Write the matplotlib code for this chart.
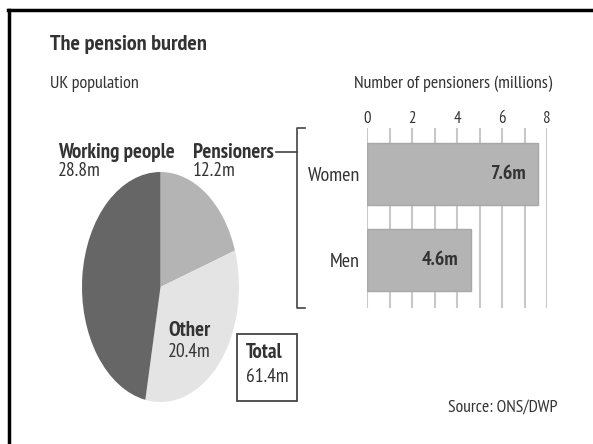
import matplotlib.pyplot as plt
from matplotlib.lines import Line2D

# UK population split (millions)
pie_labels = ['Pensioners', 'Other', 'Working people']
pie_values = [12.2, 20.4, 28.8]
pie_colors = ['#b4b4b4', '#e4e4e4', '#666666']
total = 61.4

# Pensioners by sex (millions)
sexes = ['Men', 'Women']
pensioners = [4.6, 7.6]
bar_ticks = [0, 2, 4, 6, 8]

W, H = 593, 444
txt = '#333333'
plt.rcParams['font.family'] = ['PT Sans Narrow', 'DejaVu Sans']

fig = plt.figure(figsize=(W / 100, H / 100), dpi=100)


def px(x, y):
    # pixel position (from top-left) -> figure fraction
    return x / W, 1 - y / H


def box(x0, y0, x1, y1):
    return [x0 / W, 1 - y1 / H, (x1 - x0) / W, (y1 - y0) / H]


# frame lines along the top and left
fig.add_artist(Line2D([8 / W, 1], [1 - 10 / H] * 2, color='black', lw=2.5))
fig.add_artist(Line2D([9 / W] * 2, [1 - 10 / H, 0], color='black', lw=2.5))

fig.text(*px(50, 45), 'The pension burden', fontsize=16, fontweight='bold',
         color=txt, va='center')
fig.text(*px(50, 84), 'UK population', fontsize=13, color=txt, va='center')

# pie, stretched into an upright ellipse
ax_pie = fig.add_axes(box(82, 172, 239, 402))
ax_pie.pie(pie_values, colors=pie_colors, startangle=90, counterclock=False,
           wedgeprops=dict(linewidth=0))
ax_pie.set_aspect('auto')
ax_pie.set_xlim(-1, 1)
ax_pie.set_ylim(-1, 1)
ax_pie.axis('off')

bold = dict(fontsize=15, fontweight='bold', color=txt, va='center')
reg = dict(fontsize=14, color=txt, va='center')
fig.text(*px(58, 153), 'Working people', **bold)
fig.text(*px(58, 171), '%.1fm' % pie_values[2], **reg)
fig.text(*px(193, 153), 'Pensioners', **bold)
fig.text(*px(193, 171), '%.1fm' % pie_values[0], **reg)
fig.text(*px(168, 330), 'Other', **bold)
fig.text(*px(168, 352), '%.1fm' % pie_values[1], **reg)

# total box
fig.text(*px(246, 352), 'Total', **bold)
fig.text(*px(246, 377), '%.1fm' % total, **reg)
fig.add_artist(plt.Rectangle(px(237, 401), 60 / W, 67 / H, fill=False,
                             edgecolor='#444444', lw=1.3,
                             transform=fig.transFigure))

# bracket linking pensioners to the bar chart
fig.add_artist(Line2D([px(276, 0)[0], px(297, 0)[0]], [px(0, 152)[1]] * 2,
                      color='#444444', lw=1.2))
fig.add_artist(Line2D([px(305, 0)[0], px(297, 0)[0], px(297, 0)[0], px(305, 0)[0]],
                      [px(0, 128)[1], px(0, 128)[1], px(0, 308)[1], px(0, 308)[1]],
                      color='#444444', lw=1.2))

# bar chart
ax = fig.add_axes(box(367, 128, 547, 308))
for v in range(0, 9):
    ax.axvline(v, color='#c8c8c8', lw=1.5, zorder=0)
ax.barh(sexes, pensioners, height=0.73, color='#b4b4b4', edgecolor='#a8a8a8',
        lw=1, zorder=2)
for i, v in enumerate(pensioners):
    ax.text(v - 0.53, i, '%.1fm' % v, ha='right', va='center', fontsize=14.5,
            fontweight='bold', color=txt)
ax.set_xlim(0, 8)
ax.set_ylim(-0.558, 1.535)
ax.xaxis.tick_top()
ax.set_xticks(bar_ticks)
ax.tick_params(axis='x', length=0, pad=1, labelsize=12, labelcolor=txt)
ax.tick_params(axis='y', length=0, pad=5, labelsize=14.5, labelcolor=txt)
for s in ax.spines.values():
    s.set_visible(False)
ax.set_facecolor('none')

fig.text(*px(453, 84), 'Number of pensioners (millions)', fontsize=13,
         color=txt, va='center', ha='center')
fig.text(*px(557, 408), 'Source: ONS/DWP', fontsize=12.7, color=txt,
         va='center', ha='right')

fig.savefig('out.png', dpi=100)
